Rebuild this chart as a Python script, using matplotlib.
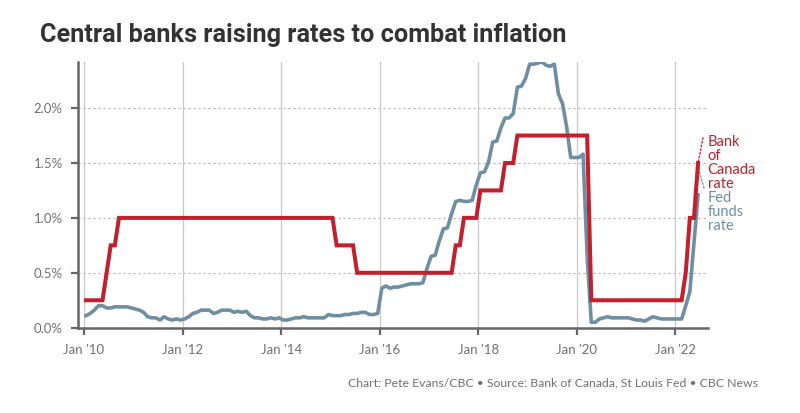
import matplotlib
matplotlib.use("Agg")
import matplotlib.pyplot as plt
from matplotlib import font_manager
import numpy as np

# monthly values, Jan 2010 .. Jun 2022 (percent)
boc_rate = ([0.25]*5 + [0.5, 0.75, 0.75, 1.0, 1.0, 1.0, 1.0]
            + [1.0]*48
            + [1.0] + [0.75]*5 + [0.5]*6
            + [0.5]*12
            + [0.5]*6 + [0.75, 0.75] + [1.0]*4
            + [1.25]*6 + [1.5]*3 + [1.75]*3
            + [1.75]*12
            + [1.75, 1.75, 1.75] + [0.25]*9
            + [0.25]*12
            + [0.25, 0.25, 0.5, 1.0, 1.0, 1.5])

fed_rate = [0.11, 0.13, 0.16, 0.20, 0.20, 0.18, 0.18, 0.19, 0.19, 0.19, 0.19, 0.18,
            0.17, 0.16, 0.14, 0.10, 0.09, 0.09, 0.07, 0.10, 0.08, 0.07, 0.08, 0.07,
            0.08, 0.10, 0.13, 0.14, 0.16, 0.16, 0.16, 0.13, 0.14, 0.16, 0.16, 0.16,
            0.14, 0.15, 0.14, 0.15, 0.11, 0.09, 0.09, 0.08, 0.08, 0.09, 0.08, 0.09,
            0.07, 0.07, 0.08, 0.09, 0.09, 0.10, 0.09, 0.09, 0.09, 0.09, 0.09, 0.12,
            0.11, 0.11, 0.11, 0.12, 0.12, 0.13, 0.13, 0.14, 0.14, 0.12, 0.12, 0.13,
            0.36, 0.38, 0.36, 0.37, 0.37, 0.38, 0.39, 0.40, 0.40, 0.40, 0.41, 0.54,
            0.65, 0.66, 0.79, 0.90, 0.91, 1.04, 1.15, 1.16, 1.15, 1.15, 1.16, 1.30,
            1.41, 1.42, 1.51, 1.69, 1.70, 1.82, 1.91, 1.91, 1.95, 2.19, 2.20, 2.27,
            2.40, 2.40, 2.41, 2.42, 2.39, 2.38, 2.40, 2.13, 2.04, 1.83, 1.55, 1.55,
            1.55, 1.58, 0.65, 0.05, 0.05, 0.08, 0.09, 0.10, 0.09, 0.09, 0.09, 0.09,
            0.09, 0.08, 0.07, 0.07, 0.06, 0.08, 0.10, 0.09, 0.08, 0.08, 0.08, 0.08,
            0.08, 0.08, 0.20, 0.33, 0.77, 1.21]

tick_years = [2010, 2012, 2014, 2016, 2018, 2020, 2022]
tick_labels = ["Jan '10", "Jan '12", "Jan '14", "Jan '16", "Jan '18", "Jan '20", "Jan '22"]
y_ticks = [0.0, 0.5, 1.0, 1.5, 2.0]

RED = "#c3202d"
BLUE = "#6e8fa3"
AXC = "#666666"
TXT = "#707070"

names = {f.name for f in font_manager.fontManager.ttflist}
body_font = "Lato" if "Lato" in names else "DejaVu Sans"
title_font = "Liberation Sans Narrow" if "Liberation Sans Narrow" in names else "Roboto"

# month midpoints as decimal years
months = 2010 + (np.arange(len(fed_rate)) + 0.5) / 12.0

fig = plt.figure(figsize=(8, 4.13), dpi=100)
ax = fig.add_axes([0.0975, 0.2065, 0.7875, 0.6435])

ax.plot(months, fed_rate, color=BLUE, lw=2.6, solid_joinstyle="round", zorder=3)
ax.plot(months, boc_rate, color=RED, lw=2.9, solid_joinstyle="miter", zorder=4)

ax.set_xlim(2009.878, 2022.66)
ax.set_ylim(0, 2.42)

ax.set_xticks(tick_years)
ax.set_xticklabels(tick_labels)
ax.set_yticks(y_ticks)
ax.set_yticklabels(["%.1f%%" % v for v in y_ticks])

for y in y_ticks[1:]:
    ax.axhline(y, color="#b5b5b5", lw=0.8, ls=(0, (2, 2.5)), zorder=1)
for x in tick_years:
    ax.axvline(x, color="#c8c8c8", lw=0.9, zorder=1)

for s in ["top", "right"]:
    ax.spines[s].set_visible(False)
for s in ["left", "bottom"]:
    ax.spines[s].set_color(AXC)
    ax.spines[s].set_linewidth(1.8)

ax.tick_params(axis="both", colors=AXC, length=5, width=1.6, labelcolor=TXT, labelsize=9.5)
ax.tick_params(axis="x", pad=7)
ax.tick_params(axis="y", pad=6)
for lab in ax.get_xticklabels() + ax.get_yticklabels():
    lab.set_family(body_font)

# series labels with dotted leaders
ax.annotate("", xy=(months[-1], boc_rate[-1]), xytext=(2022.56, 1.73),
            arrowprops=dict(arrowstyle="-", color=RED, lw=0.9, ls=(0, (1.5, 1.5)),
                            shrinkA=0, shrinkB=0), annotation_clip=False)
ax.annotate("", xy=(2022.46, 1.46), xytext=(2022.58, 1.27),
            arrowprops=dict(arrowstyle="-", color=BLUE, lw=0.9, ls=(0, (1.5, 1.5)),
                            shrinkA=0, shrinkB=0), annotation_clip=False)
ax.text(2022.65, 1.755, "Bank\nof\nCanada\nrate", color=RED, fontsize=10.5, family=body_font,
        va="top", ha="left", linespacing=1.0, clip_on=False)
ax.text(2022.65, 1.245, "Fed\nfunds\nrate", color=BLUE, fontsize=10.5, family=body_font,
        va="top", ha="left", linespacing=1.0, clip_on=False)

title = fig.text(40 / 800, 1 - 35 / 413, "Central banks raising rates to combat inflation",
                 fontsize=18, fontweight="bold", color="#333333", family=title_font,
                 ha="left", va="center")
foot = fig.text(758 / 800, 1 - 383 / 413,
                "Chart: Pete Evans/CBC \u2022 Source: Bank of Canada, St Louis Fed \u2022 CBC News",
                fontsize=9, color=TXT, family=body_font, ha="right", va="center")

# fit title and footer to the widths in the reference
fig.canvas.draw()
r = fig.canvas.get_renderer()
w = title.get_window_extent(r).width
title.set_fontsize(18 * 528 / w)
w = foot.get_window_extent(r).width
foot.set_fontsize(9 * 410 / w)

fig.savefig("out.png", dpi=100)
